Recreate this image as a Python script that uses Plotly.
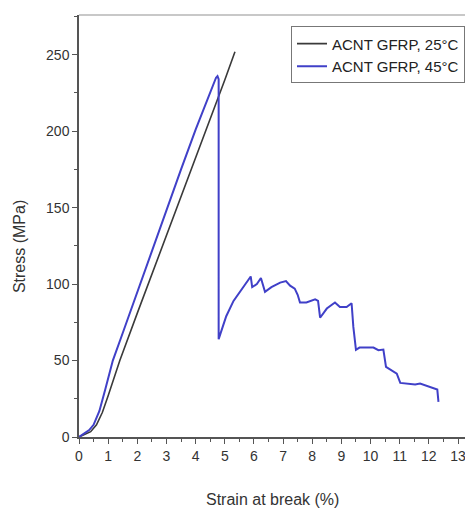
import plotly.graph_objects as go

# ACNT GFRP, 25°C
strain_25 = [0, 0.2, 0.4, 0.6, 0.8, 1.0, 1.2, 1.4, 2.0, 3.0, 4.0, 5.0, 5.35]
stress_25 = [0, 1.5, 3.5, 8, 16, 27, 39, 50, 81, 131.5, 182.5, 233.5, 252]

# ACNT GFRP, 45°C
strain_45 = [0, 0.2, 0.35, 0.5, 0.7, 0.9, 1.16, 1.5, 2.0, 2.5, 3.0, 3.5, 4.0, 4.3, 4.5, 4.62, 4.7, 4.75, 4.79,
             4.79, 4.9, 5.05, 5.3, 5.6, 5.89, 5.94, 6.1, 6.24, 6.38, 6.6, 6.9, 7.1, 7.24, 7.4, 7.5, 7.58,
             7.8, 8.1, 8.2, 8.27, 8.5, 8.78, 8.95, 9.18, 9.35, 9.41, 9.5, 9.62, 10.1, 10.27, 10.44, 10.53,
             10.72, 10.9, 11.02, 11.35, 11.53, 11.7, 11.87, 12.15, 12.29, 12.33]
stress_45 = [0, 2.5, 4.5, 8, 17, 31, 50, 68, 95, 122, 149, 175, 201, 216, 226, 232, 235, 236, 234,
             64, 71, 79, 89, 97, 105, 98, 100, 104, 95, 98, 101, 102, 99, 97, 93, 88,
             88, 90, 89, 78, 84, 88, 85, 85, 87.5, 72, 57, 58.5, 58.5, 56.8, 57.2, 45.8,
             43.7, 41.5, 35.4, 35, 34.3, 35, 33.8, 32.3, 31, 23]

x_ticks = list(range(0, 14))
y_ticks = [0, 50, 100, 150, 200, 250]

FONT = "Liberation Sans, Arial, sans-serif"

fig = go.Figure()
fig.add_trace(go.Scatter(x=strain_25, y=stress_25, mode="lines", name="ACNT GFRP, 25°C",
                         line=dict(color="#3a3a3a", width=1.6)))
fig.add_trace(go.Scatter(x=strain_45, y=stress_45, mode="lines", name="ACNT GFRP, 45°C",
                         line=dict(color="#4040c8", width=2)))

axis_common = dict(showgrid=False, zeroline=False, showline=True, linecolor="#555", linewidth=1.5,
                   ticks="outside", tickcolor="#555", tickwidth=1.2, ticklen=5,
                   ticklabeloverflow="allow",
                   tickfont=dict(family=FONT, size=14, color="#333"))

fig.update_xaxes(range=[0, 13.24], tickvals=x_ticks, ticktext=[str(v) for v in x_ticks],
                 minor=dict(ticks="outside", dtick=0.5, tick0=0, ticklen=3, tickcolor="#555", tickwidth=1.2),
                 **axis_common)
fig.update_yaxes(range=[0, 276], tickvals=y_ticks, ticktext=[str(v) for v in y_ticks],
                 minor=dict(ticks="outside", dtick=25, tick0=0, ticklen=3, tickcolor="#555", tickwidth=1.2),
                 **axis_common)

fig.update_layout(
    width=465, height=512,
    margin=dict(l=79, r=0, t=15, b=75),
    paper_bgcolor="white", plot_bgcolor="white",
    font=dict(family=FONT, color="#333"),
    showlegend=True,
    legend=dict(x=1.0, xanchor="right", y=0.973, yanchor="top",
                bordercolor="#777", borderwidth=1, bgcolor="white",
                font=dict(family=FONT, size=15, color="#222"),
                tracegroupgap=0, itemwidth=30),
    annotations=[
        dict(text="Strain at break (%)", xref="paper", yref="paper", x=0.5, y=0, yshift=-62,
             xanchor="center", yanchor="middle", showarrow=False,
             font=dict(family=FONT, size=16, color="#333")),
        dict(text="Stress (MPa)", xref="paper", yref="paper", x=0, xshift=-60, y=0.45,
             xanchor="center", yanchor="middle", showarrow=False, textangle=-90,
             font=dict(family=FONT, size=16, color="#333")),
    ],
    shapes=[
        dict(type="line", xref="paper", yref="paper", x0=0, x1=1, y0=1, y1=1,
             line=dict(color="#c8c8c8", width=2)),
    ],
)

fig.write_html("out.html", config={"displayModeBar": False},
               post_script="document.body.style.margin='0';document.body.style.overflow='hidden';")
